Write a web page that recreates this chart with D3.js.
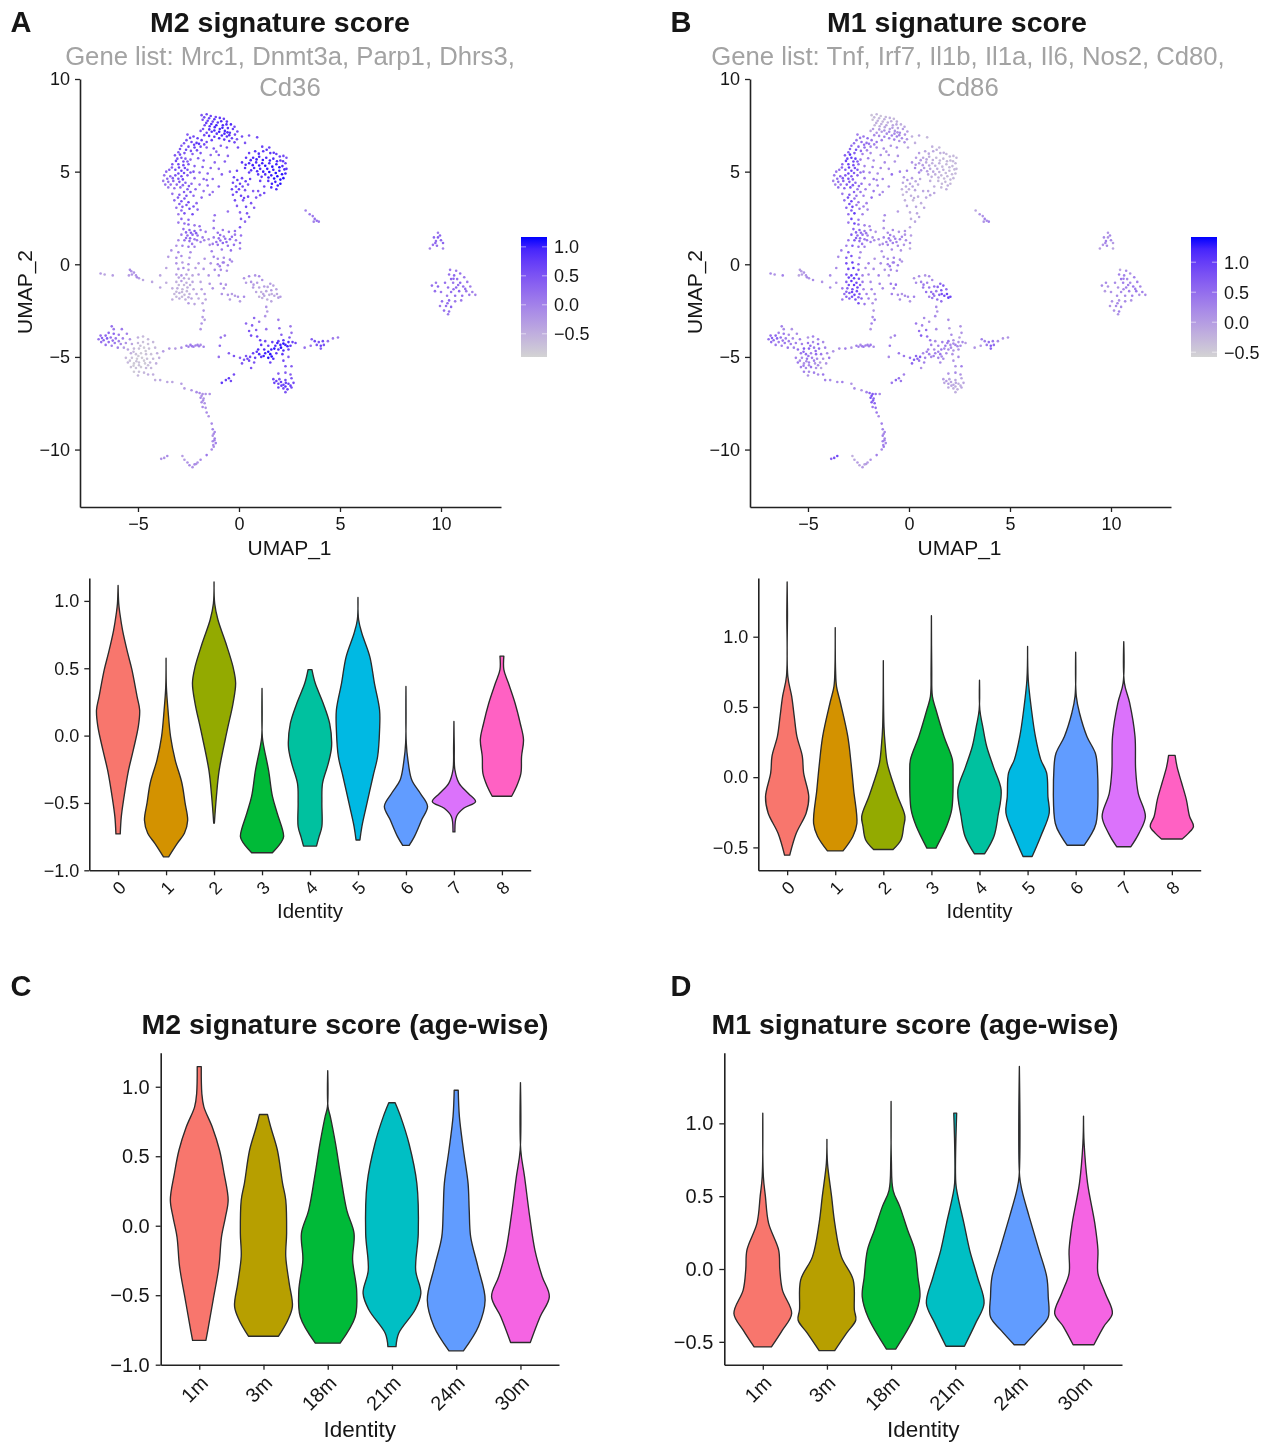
<!DOCTYPE html>
<html>
<head>
<meta charset="utf-8">
<script src="https://cdn.jsdelivr.net/npm/d3@7"></script>
<style>
  html, body { margin: 0; background: #fff; }
  text { font-family: "Liberation Sans", Arial, sans-serif; fill: #161616; }
  .blur { filter: blur(0.45px); }
</style>
</head>
<body>
<svg id="chart" width="1271" height="1443"></svg>
<script>
// umap cells: [UMAP_1, UMAP_2, M2 score, M1 score]
const topCap = [[-1.85,8.05,.5,-.4],[-1.6,8.1,.6,-.3],[-1.4,8,.7,-.4],[-1.15,7.95,.6,-.3],[-.95,7.9,.8,-.2],[-.75,7.85,.7,-.3],[-.6,7.7,.8,-.2],[-.4,7.55,.9,-.2],[-1.8,7.8,.5,-.4],[-1.55,7.75,.7,-.2],[-1.3,7.7,.6,-.3],[-1.05,7.65,.8,-.2],[-.8,7.5,.9,-.1],[-.55,7.35,.8,-.1],[-.3,7.3,.7,0],[-1.7,7.5,.6,-.3],[-1.45,7.45,.8,-.2],[-1.2,7.4,.9,-.1],[-.95,7.3,.9,0],[-.7,7.2,.9,.1],[-.45,7.1,.8,.2],[-.2,7,.6,.1],[-1.9,7.2,.5,-.1],[-1.6,7.1,.7,.1],[-1.35,7.15,.8,0],[-1.1,7.05,.8,.2],[-.85,6.95,.9,.3],[-.6,6.9,.8,.3],[-.35,6.8,.7,.2],[-.1,6.75,.5,.1],[.15,6.9,.6,-.2],[.5,6.95,.5,-.1],[.9,6.85,.6,-.3],[.3,6.55,.5,-.2],[-.05,6.3,.6,-.1]];
const topCapFill = [[-1.72,7.93,.6,-.3],[-1.48,7.88,.7,-.3],[-1.22,7.83,.8,-.2],[-.88,7.72,.9,-.2],[-.62,7.55,.9,-.1],[-.22,7.42,.6,-.1],[-1.62,7.63,.7,-.2],[-1.37,7.57,.9,-.2],[-1.12,7.5,1,-.1],[-.82,7.37,1,0],[-.57,7.12,.9,.1],[-.08,7.17,.6,0],[-1.78,7.3,.5,0],[-1.47,7.28,.8,0],[-1.22,7.22,.9,.1],[-.98,7.15,1,.2],[-.72,7.05,.9,.2],[-.48,6.97,.8,.2],[-1.72,6.97,.6,.2],[-1.48,6.93,.8,.2],[-1.22,6.88,.8,.3],[-.98,6.8,.9,.3],[-.73,6.73,.8,.3],[-.48,6.65,.7,.1],[-.22,6.58,.6,.1]];
const topLeft = [[-2.55,7,.4,.3],[-2.25,6.9,.6,.4],[-2.05,6.8,.7,.5],[-2.6,6.7,.5,.4],[-2.35,6.6,.6,.5],[-2.1,6.55,.8,.5],[-1.85,6.7,.7,.4],[-1.6,6.6,.6,.4],[-1.35,6.7,.7,.3],[-2.85,6.4,.4,.5],[-2.5,6.35,.6,.6],[-2.2,6.3,.7,.5],[-1.9,6.35,.6,.3],[-1.6,6.3,.4,.2],[-1.25,6.25,.5,.2],[-.9,6.4,.4,.1],[-.6,6.3,.5,.2],[-3,6.05,.4,.6],[-2.7,6,.5,.7],[-2.3,5.95,.4,.3],[-1.9,6,.5,.2],[-1.4,5.9,.3,.2],[-1,5.9,.4,.1],[-.55,5.85,.3,.1],[-3.05,5.7,.5,.9],[-2.85,5.75,.5,1],[-2.65,5.7,.4,1],[-2.4,5.65,.3,.4],[-1.75,5.6,.4,.2],[-1.2,5.5,.3,.2],[-.7,5.55,.4,.1],[-3.3,5.4,.5,.6],[-3,5.4,.6,.9],[-2.75,5.35,.6,.8],[-2.5,5.4,.5,.5],[-2.2,5.3,.4,.3],[-1.8,5.25,.4,.3],[-1.4,5.2,.3,.2],[-1,5.15,.3,.2],[-3.45,5.1,.4,.5],[-3.15,5.1,.6,.7],[-2.85,5.05,.7,.9],[-2.55,5.1,.5,.7],[-2.25,5,.5,.4],[-1.95,4.95,.3,.3],[-1.55,4.9,.4,.2],[-.85,4.85,.4,.5],[-.45,5,.3,.3],[-3.7,4.8,.2,.4],[-3.4,4.75,.3,.6],[-3.15,4.8,.5,.7],[-2.85,4.75,.6,.7],[-2.55,4.8,.4,.6],[-2.2,4.65,.3,.4],[-1.75,4.6,.3,.4],[-1.3,4.6,.3,.3],[-3.75,4.5,.1,.3],[-3.5,4.45,.2,.5],[-3.25,4.5,.3,.6],[-2.95,4.45,.5,.7],[-2.65,4.4,.4,.6],[-2.35,4.35,.3,.5],[-1.95,4.3,.2,.3],[-1.55,4.25,.3,.3],[-1,4.2,.4,.2],[-3.5,4.15,.1,.5],[-3.2,4.1,.2,.6],[-2.9,4.15,.3,.8],[-2.55,4.05,.4,.4],[-2.15,4.05,.3,.3],[-1.75,3.95,.2,.4],[-1.3,3.9,.2,.2],[-3.3,3.8,.2,.4],[-2.95,3.75,.4,.7],[-2.6,3.7,.5,.4],[-2.25,3.7,.3,.3],[-1.85,3.6,.3,.5],[-3.2,3.45,.3,.5],[-2.85,3.4,.5,.9],[-2.5,3.35,.6,.4],[-2.1,3.3,.3,.3],[-3.1,3.05,.2,.6],[-2.8,3.1,.4,.9],[-2.45,3,.6,.4],[-2.05,2.95,.3,.2],[-3,2.7,.1,.5],[-2.7,2.75,.5,1],[-2.3,2.7,.6,.3],[-1.2,2.65,.2,.2],[-2.85,2.45,.3,.9],[-2.5,2.4,.3,.4],[-3,2.25,.1,.4],[-2.7,2.2,.2,.9]];
const topLeftFill = [[-2.42,6.82,.6,.4],[-2.72,6.53,.5,.5],[-2.22,6.45,.7,.5],[-1.98,6.5,.8,.4],[-1.72,6.47,.6,.3],[-2.92,6.22,.5,.6],[-2.62,6.18,.6,.8],[-2.38,6.12,.5,.5],[-2.08,6.15,.6,.3],[-1.12,6.08,.3,.1],[-3.17,5.88,.5,.7],[-2.92,5.92,.6,1.1],[-2.75,5.55,.6,.9],[-3.12,5.58,.6,.9],[-2.55,5.55,.4,.7],[-2.02,5.72,.4,.3],[-3.32,5.22,.4,.6],[-2.97,5.22,.7,1],[-2.68,5.2,.6,.8],[-3.6,5,.3,.4],[-3,4.9,.6,.9],[-2.72,4.93,.6,.7],[-2.4,4.95,.5,.5],[-3.55,4.62,.3,.5],[-3.28,4.65,.4,.7],[-3,4.62,.5,.8],[-2.78,4.58,.6,.6],[-3.65,4.3,.2,.3],[-3.38,4.3,.2,.4],[-3.08,4.3,.3,.7],[-2.78,4.27,.3,.7],[-2.48,4.22,.4,.5],[-1.6,4.55,.3,.2],[-1.45,3.75,.3,.3],[-2.72,3.9,.4,.6],[-2.4,3.9,.5,.4],[-3.02,3.6,.4,.8],[-2.7,3.55,.5,.5],[-2.95,3.25,.4,.8],[-2.6,3.2,.5,.4],[-2.25,3.12,.5,.3],[-2.85,2.9,.3,.7]];
const topRight = [[1.15,6.35,.7,-.2],[1.5,6.3,.7,-.3],[1.2,6.1,.8,-.1],[.8,6.1,.8,-.1],[.5,6,.7,0],[1.55,6,.8,-.2],[1.85,5.95,.7,-.3],[2.2,5.85,.6,-.3],[2.35,5.75,.5,-.3],[.35,5.75,.8,0],[.7,5.75,.9,-.1],[1,5.8,.9,-.2],[1.35,5.75,.9,-.3],[1.7,5.7,.9,-.3],[2.05,5.6,.8,-.3],[2.3,5.45,.7,-.3],[.15,5.5,.8,.1],[.5,5.45,.9,0],[.85,5.5,.9,-.1],[1.15,5.45,1,-.2],[1.5,5.45,.9,-.2],[1.85,5.4,1,-.3],[2.15,5.3,.9,-.3],[2.35,5.15,.8,-.3],[.3,5.2,.8,.2],[.75,5.2,.9,0],[1.05,5.15,.9,-.1],[1.4,5.15,1,-.2],[1.7,5.1,1,-.2],[2,5.05,1,-.3],[2.3,4.9,1,-.3],[-.1,5.05,.7,.3],[.5,4.95,.8,.3],[.95,4.85,.8,-.1],[1.3,4.85,.9,-.2],[1.6,4.8,1,-.3],[1.9,4.75,1.1,-.3],[2.2,4.65,1.1,-.3],[-.25,4.7,.7,.1],[.15,4.65,.6,0],[.55,4.6,.7,-.1],[1.05,4.5,.7,-.2],[1.45,4.5,.8,-.3],[1.8,4.45,1,-.3],[2.05,4.35,1.1,-.3],[-.3,4.4,.6,-.1],[.05,4.35,.7,-.1],[.45,4.3,.5,-.2],[1.25,4.2,.6,-.2],[1.6,4.15,.9,-.3],[1.85,4.05,.9,-.2],[-.35,4.05,.7,-.2],[0,4.05,.7,-.2],[.3,4,.5,-.1],[.95,3.95,.5,-.1],[1.25,3.85,.6,-.1],[-.3,3.75,.6,-.3],[.1,3.7,.7,-.2],[.45,3.65,.6,-.2],[.85,3.6,.5,-.1],[-.2,3.45,.6,-.2],[.2,3.45,.5,-.3],[.6,3.3,.5,-.2],[-.1,3.15,.4,-.1],[.35,3.1,.6,-.1],[.75,3.05,.4,-.1],[.05,2.8,.3,-.2],[.4,2.75,.5,-.1],[.1,2.45,.4,-.2],[-.55,2.85,.2,0],[-1.25,2.35,.1,.2],[.3,2.3,.3,-.1],[.05,2,.5,-.1],[-.2,1.8,.2,.1]];
const topRightFill = [[.98,5.97,.9,-.1],[1.37,6.18,.8,-.2],[1.72,6.02,.8,-.2],[2.02,5.82,.7,-.3],[.58,5.62,.9,0],[.87,5.66,1,-.1],[1.18,5.63,1,-.2],[1.53,5.6,1,-.3],[1.88,5.56,.9,-.3],[2.18,5.56,.8,-.3],[.33,5.37,.9,.1],[.68,5.35,1,0],[1,5.33,1,-.1],[1.3,5.32,1.1,-.2],[1.65,5.27,1.1,-.3],[2,5.24,1.1,-.3],[2.25,5.12,.9,-.3],[.6,5.07,.8,.1],[.9,5.02,.9,0],[1.2,5,1,-.1],[1.5,4.98,1.1,-.2],[1.82,4.93,1.1,-.3],[2.13,4.86,1.1,-.3],[1.12,4.72,.8,-.2],[1.46,4.68,1,-.2],[1.74,4.63,1.1,-.3],[2.05,4.57,1.1,-.3],[1.63,4.35,1,-.3],[1.92,4.25,1,-.2],[-.08,4.55,.7,.1],[.33,4.48,.7,-.1],[-.15,4.2,.6,-.1],[.18,4.2,.6,-.1],[.7,3.95,.4,-.1],[1.05,3.73,.5,-.1],[-.12,3.9,.7,-.2],[.25,3.58,.6,-.2],[.5,2.55,.4,-.1]];
const midBand = [[-2.5,2.15,.3,.5],[-2.2,2.1,.1,.3],[-1.95,2.05,.2,.2],[-2.75,1.9,.2,.6],[-2.45,1.85,.3,.6],[-2.2,1.8,.4,.4],[-1.9,1.85,.1,.3],[-1.65,1.75,.1,.1],[-2.85,1.6,.1,.7],[-2.55,1.55,.2,.5],[-2.3,1.6,.3,.5],[-2.05,1.55,.2,.3],[-1.8,1.45,.1,.2],[-1.5,1.35,-.1,.2],[-3,1.3,-.1,.4],[-2.7,1.3,.2,.7],[-2.45,1.25,.2,.5],[-2.2,1.35,.1,.4],[-1.9,1.2,0,.3],[-1.45,1.05,-.1,.1],[-3.1,1,-.2,.3],[-2.8,1,0,.7],[-2.5,.95,.1,.4],[-2.2,.95,0,.3],[-1.35,.7,0,.1],[-3.35,.75,-.2,.3],[-3,.65,-.1,.6],[-2.4,.65,-.1,.2],[-1.25,.4,0,.2],[-1.25,1.95,.1,.1],[-1.05,1.7,.2,.2],[-.8,1.85,.1,.2],[-.5,1.75,.2,.1],[-.2,1.6,.1,.1],[-1.25,1.45,.1,.3],[-1,1.4,.2,.4],[-.75,1.5,.1,.2],[-.45,1.35,.3,.3],[-.15,1.3,.1,.2],[.1,1.55,.2,0],[-1.3,1.1,.1,.2],[-1.05,1.05,.2,.3],[-.8,1.15,.3,.3],[-.55,1,.2,.2],[-.25,1.05,.2,.1],[.05,1.15,.1,.1],[-.85,.8,.1,.2],[-.4,.75,.2,.1],[.05,.85,.1,-.1]];
const midBandFill = [[-2.62,1.72,.3,.6],[-2.38,1.7,.4,.5],[-2.12,1.68,.4,.4],[-2.42,1.4,.3,.5],[-2.62,1.42,.2,.6],[-2.08,1.3,.1,.4],[-1.72,1.3,0,.2],[-2.32,1.1,.1,.4],[-.93,1.58,.2,.3],[-1.12,1.2,.2,.3],[-.92,1.28,.3,.4],[-.62,1.2,.3,.3],[-.35,1.48,.2,.2],[-.68,1.38,.2,.3]];
const midCore = [[-3.5,.4,-.3,.2],[-3.1,.35,-.1,.7],[-2.85,.45,-.1,.8],[-2.45,.35,-.2,.3],[-1.7,.3,-.2,.1],[-1.05,.3,-.1,.2],[-.75,.35,-.1,.3],[-.45,.25,0,.2],[-3.1,.05,-.2,.8],[-2.8,.1,-.3,1],[-2.5,0,-.2,.5],[-2,.05,-.3,.3],[-1.4,.05,-.2,.2],[-1.05,0,0,.3],[-.8,.1,0,.2],[-.55,-.05,-.1,.3],[-.35,.15,-.1,.1],[-3.6,-.2,-.4,.2],[-3,-.25,-.2,.9],[-2.75,-.2,-.1,1.1],[-2.5,-.3,-.3,.6],[-2.15,-.2,-.3,.2],[-1.75,-.25,-.2,.2],[-1.2,-.3,-.1,.1],[-.9,-.3,-.1,.2],[-.6,-.35,-.2,.2],[-3.9,-.6,-.4,.2],[-3.1,-.55,-.3,.7],[-2.85,-.6,-.2,1],[-2.6,-.55,-.4,1],[-2.3,-.6,-.4,.3],[-2,-.55,-.3,.2],[-1.5,-.6,-.2,.3],[-1,-.6,-.1,.1],[-4.3,-.95,-.4,.1],[-3.6,-1,-.5,.1],[-3.1,-.95,-.5,.7],[-2.85,-.9,-.3,1],[-2.6,-1,-.5,.9],[-2.3,-.95,-.4,.4],[-1.9,-.95,-.4,.2],[-1.45,-1.05,-.2,.3],[-.9,-1.05,-.1,.4],[-.65,-1.1,-.2,.5],[-3.9,-1.25,-.4,.2],[-3.3,-1.3,-.5,.4],[-3.05,-1.3,-.5,.6],[-2.8,-1.35,-.6,.8],[-2.55,-1.25,-.5,.9],[-2.25,-1.35,-.4,.3],[-1.85,-1.35,-.3,.3],[-1.3,-1.3,-.2,.2],[-3.2,-1.6,-.6,.5],[-2.95,-1.55,-.5,.7],[-2.7,-1.65,-.6,.9],[-2.45,-1.6,-.5,.7],[-2.1,-1.6,-.4,.3],[-1.7,-1.6,-.3,.2],[-.85,-1.6,-.2,.3],[-.55,-1.65,-.2,.2],[-.35,-1.6,-.3,.1],[-.05,-1.75,-.2,.2],[.25,-1.75,-.1,.3],[-3.3,-1.9,-.5,.4],[-2.95,-1.85,-.5,.6],[-2.65,-1.9,-.5,.8],[-2.35,-1.85,-.4,.6],[-2,-1.85,-.5,.3],[-1.65,-1.9,-.4,.2],[-.45,-1.9,-.3,.2],[-2.5,-2.1,-.3,.8],[-2.2,-2.15,-.4,.4],[-1.8,-2.1,-.4,.1],[.05,-2,-.3,.1],[-1.75,-2.5,-.2,.1],[-1.8,-2.85,-.3,.2],[-1.85,-3.2,-.2,.3],[-1.9,-3.5,-.2,.1],[-1.7,-3,-.3,.4]];
const midCoreFill = [[-2.98,-.72,-.4,.9],[-2.72,-.75,-.4,1],[-2.48,-.78,-.5,.8],[-2.98,-1.12,-.6,.8],[-2.72,-1.12,-.6,1],[-2.42,-1.12,-.5,.6],[-3.1,-1.48,-.6,.6],[-2.82,-1.5,-.6,.9],[-2.58,-1.45,-.6,.8],[-3.1,-1.75,-.6,.6],[-2.82,-1.75,-.6,.8],[-2.5,-1.78,-.5,.6],[-.2,-1.7,-.3,.2],[-.75,-1.3,-.2,.3],[-.75,.1,-.1,.3],[-.95,-.1,0,.4]];
const midRight = [[.25,-.75,-.2,.1],[.5,-.65,-.1,.2],[.8,-.6,-.2,.1],[1,-.65,-.1,.2],[.35,-1,-.3,.2],[.6,-.95,-.2,.3],[.9,-1,-.3,.3],[1.15,-.85,-.2,.2],[.7,-1.25,-.3,.4],[1,-1.25,-.4,.4],[1.25,-1.2,-.3,.5],[1.55,-1.05,-.3,.6],[1.7,-1.15,-.4,.7],[.85,-1.5,-.4,.5],[1.1,-1.5,-.5,.5],[1.35,-1.45,-.4,.4],[1.6,-1.4,-.3,.7],[1.85,-1.35,-.4,.5],[1,-1.75,-.5,.3],[1.25,-1.7,-.4,.4],[1.5,-1.65,-.5,.6],[1.75,-1.7,-.4,.9],[1.95,-1.8,-.3,1],[2.05,-1.75,-.3,.9],[1.4,-1.9,-.5,.5],[1.6,-2,-.4,.5],[1.35,-2.3,-.2,.2],[1.4,-2.55,-.3,.1],[1.3,-2.8,-.2,.2],[.72,-1.1,-.3,.4],[1.42,-1.22,-.4,.6],[1.2,-1.6,-.4,.5],[1.62,-1.6,-.5,.8],[1.88,-1.6,-.4,.9],[1.15,-1.82,-.5,.4]];
const lowerRight = [[.75,-2.9,.3,.2],[1.95,-3,.1,.2],[.35,-3.2,.3,.4],[.65,-3.3,.4,.3],[1,-3.1,.1,.1],[2.55,-3.35,.1,.1],[2,-3.45,.3,0],[2.6,-3.7,.2,.1],[.5,-3.6,.5,.5],[.85,-3.55,.4,.5],[1.35,-3.5,.2,.2],[2.1,-3.8,.4,.2],[.6,-3.85,.6,.7],[.9,-3.9,.6,.5],[2.5,-3.95,.5,0],[1.05,-4.1,.7,.4],[1.3,-4.15,.6,.2],[1.65,-4.2,.7,.3],[1.95,-4.15,.7,.4],[2.2,-4.1,.8,.1],[2.45,-4.2,.9,.1],[2.65,-4.2,.7,.2],[2.8,-4.25,.6,0],[1.1,-4.35,.8,.3],[1.45,-4.4,.7,.3],[1.8,-4.4,.9,.4],[2.05,-4.35,1,.2],[2.3,-4.35,1,.3],[2.55,-4.4,.8,.2],[3.25,-4.5,.2,.1],[3.55,-4.4,.2,.1],[.95,-4.6,.9,.3],[1.25,-4.6,.9,.2],[1.6,-4.6,1,.4],[1.95,-4.6,.9,.2],[2.2,-4.65,.9,.1],[2.45,-4.6,.7,.1],[.7,-4.8,.7,.2],[1,-4.85,.9,.3],[1.3,-4.8,1,.3],[1.55,-4.85,1.1,.4],[1.85,-4.8,.8,.2],[2.15,-4.85,.8,.1],[.35,-4.95,.5,.6],[.55,-5,.6,.7],[.8,-5.05,.7,.3],[1.1,-5,.8,.2],[1.45,-5.05,1.1,.3],[1.7,-5.1,.9,.2],[.05,-5.05,.4,.5],[.25,-5.15,.5,.7],[.5,-5.2,.6,.4],[.75,-5.3,.5,.3],[1.55,-5.3,.7,.2],[-.25,-4.95,.5,.4],[-.5,-4.8,.4,.4],[.15,-5.35,.5,.6],[2.2,-5.2,.6,.1],[2.45,-5,.4,.2],[2.3,-5.5,.5,.1],[2.6,-5.5,.4,.3],[.6,-5.6,.5,.1],[-.7,-3.85,.1,.3],[-.95,-4.4,.3,.4],[-1,-5,.2,.2],[-.9,-3.95,.2,.1],[1.45,-4.72,1.1,.3],[1.75,-4.55,1.1,.2],[2.08,-4.5,1.1,.2],[1.9,-4.25,1,.3],[2.2,-4.28,1.1,.2],[2.4,-4.42,1,.2],[1.22,-4.95,1,.3],[1.62,-4.98,1.1,.2],[.88,-4.72,.8,.3],[.42,-5.1,.6,.6]];
const bottomRight = [[-.85,-6.4,.8,.4],[-.65,-6.25,.7,.6],[-.5,-6.15,.8,.5],[-.4,-6.3,.6,.4],[-.25,-5.95,.6,.3],[1.95,-5.9,.4,.1],[2.3,-5.85,.4,.2],[2.55,-5.95,.4,.1],[1.7,-6.2,.6,0],[2,-6.2,.5,-.1],[2.3,-6.25,.6,-.1],[2.6,-6.15,.5,-.1],[1.75,-6.4,.7,-.1],[1.95,-6.45,.6,0],[2.2,-6.5,.7,-.1],[2.45,-6.45,.7,-.2],[2.7,-6.4,.6,-.1],[1.95,-6.65,.7,-.1],[2.2,-6.7,.6,-.2],[2.4,-6.75,.7,-.2],[2.6,-6.65,.6,-.1],[2.3,-6.9,.5,-.2],[1.85,-6.3,.7,0],[2.08,-6.35,.7,-.1],[2.32,-6.4,.7,-.1],[2.55,-6.55,.7,-.2],[2.1,-6.55,.7,-.1],[2.3,-6.6,.8,-.2]];
const rightWing = [[3.6,-4.05,.4,.3],[3.75,-4.15,.6,.3],[3.95,-4.2,.5,.5],[4.15,-4.15,.6,.4],[3.85,-4.35,.5,.4],[4.05,-4.4,.7,.7],[4.2,-4.35,.5,.5],[4.05,-4.55,.4,.6],[4.4,-4.15,.2,.2],[4.65,-4,.1,.1],[4.9,-3.95,.1,.1],[3.3,2.9,0,-.1],[3.5,2.7,.1,.1],[3.65,2.6,.1,.1],[3.75,2.45,.2,.3],[3.85,2.35,.2,.2],[3.95,2.3,.1,.3],[3.7,2.3,0,.1]];
const leftStray = [[-6.85,-.5,-.3,.2],[-6.65,-.55,-.4,.1],[-6.25,-.6,-.3,.3],[-5.4,-.3,-.1,0],[-5.45,-.6,-.3,-.1],[-5.3,-.55,-.2,0],[-5.2,-.45,-.2,.1],[-5.05,-.7,-.1,.2],[-4.95,-.75,-.3,.1],[-4.75,-.85,-.4,.2],[-5.33,-.38,-.2,0],[-5.1,-.6,-.2,.1]];
const leftHead = [[-6.3,-3.35,.2,.3],[-6.2,-3.5,.1,.2],[-5.8,-3.5,.1,.1],[-6.45,-3.7,.3,.3],[-6.2,-3.75,.3,.4],[-5.95,-3.8,.1,.2],[-5.55,-3.75,0,.2],[-6.85,-3.85,.2,.5],[-6.6,-3.85,.3,.6],[-6.35,-3.95,.2,.5],[-6.1,-4,.1,.3],[-5.75,-4,0,.2],[-5.4,-4.05,-.2,.3],[-6.95,-4.05,.2,.5],[-6.7,-4.1,.3,.5],[-6.45,-4.2,.2,.3],[-6.15,-4.25,.1,.4],[-5.85,-4.3,-.1,.3],[-6.6,-4.35,.2,.4],[-6.3,-4.4,0,.3],[-6,-4.5,0,.4],[-5.7,-4.5,-.3,.3],[-6.78,-3.98,.3,.6],[-6.53,-4,.4,.6],[-6.82,-4.2,.2,.5],[-6.25,-4.12,.2,.4],[-5.95,-4.15,0,.3],[-5.6,-4.25,-.2,.3]];
const leftBody = [[-5,-3.95,-.5,.1],[-4.75,-3.9,-.6,.3],[-4.5,-4.05,-.6,.3],[-5.3,-4.3,-.4,.3],[-5,-4.25,-.6,.4],[-4.75,-4.2,-.7,.2],[-4.5,-4.3,-.7,.4],[-4.25,-4.2,-.6,.2],[-5.5,-4.6,-.4,.5],[-5.2,-4.55,-.6,.7],[-4.95,-4.55,-.7,.6],[-4.7,-4.5,-.8,.4],[-4.45,-4.55,-.7,.5],[-4.15,-4.5,-.6,.3],[-5.35,-4.8,-.5,.4],[-5.1,-4.85,-.7,.5],[-4.85,-4.8,-.8,.3],[-4.6,-4.85,-.7,.5],[-4.35,-4.85,-.7,.4],[-4.05,-4.8,-.5,.2],[-5.6,-5.05,-.6,.3],[-5.3,-5.05,-.7,.2],[-5.05,-5.1,-.8,.4],[-4.8,-5.05,-.8,.3],[-4.55,-5.1,-.7,.2],[-4.25,-5.1,-.6,.1],[-3.95,-5.05,-.5,.4],[-5.5,-5.3,-.6,.4],[-5.2,-5.35,-.8,.1],[-4.95,-5.3,-.7,.3],[-4.65,-5.35,-.8,.1],[-4.4,-5.3,-.6,0],[-4.1,-5.35,-.5,.1],[-5.35,-5.55,-.7,.3],[-5.1,-5.6,-.7,.2],[-4.85,-5.55,-.8,.4],[-4.6,-5.6,-.6,.1],[-4.35,-5.6,-.6,-.1],[-5.2,-5.8,-.8,.3],[-4.95,-5.8,-.7,.2],[-4.7,-5.85,-.6,.3],[-5,-6,-.6,.1],[-4.5,-5.95,-.5,.2],[-4.25,-5.95,-.5,.4],[-4.15,-6.25,-.5,.3],[-3.9,-6.25,-.4,.2],[-3.55,-6.35,-.4,.2],[-3.3,-6.35,-.4,.3],[-4.88,-4.4,-.7,.5],[-4.62,-4.68,-.8,.5],[-5.22,-4.72,-.6,.6],[-4.98,-4.95,-.8,.4],[-4.7,-5.2,-.8,.3],[-5.08,-5.23,-.7,.2],[-5.4,-5.2,-.7,.2],[-4.5,-5.45,-.7,.2],[-4.95,-5.45,-.7,.2],[-5.22,-5.47,-.8,.3]];
const strandH = [[-3.75,-4.7,-.3,.1],[-3.45,-4.55,-.2,.2],[-3.15,-4.55,-.3,.3],[-2.85,-4.5,-.1,.1],[-2.6,-4.4,0,.3],[-2.4,-4.35,.1,.2],[-2.25,-4.45,0,.4],[-2.05,-4.35,0,.3],[-1.9,-4.35,-.1,.4],[-1.75,-4.45,0,.2],[-2.5,-4.45,0,.3],[-2.32,-4.42,.1,.3],[-2.15,-4.38,0,.3],[-1.98,-4.42,0,.3]];
const stalk = [[-2.85,-6.45,-.3,.1],[-2.7,-6.7,-.3,.2],[-2.35,-6.8,-.2,.1],[-2.1,-6.9,-.1,.3],[-1.95,-6.95,-.1,.6],[-1.8,-7,-.2,.7],[-1.65,-7,-.2,.5],[-1.45,-7,-.2,.2],[-1.9,-7.2,-.1,.8],[-1.75,-7.25,-.2,.6],[-1.85,-7.45,-.1,.7],[-1.7,-7.5,-.2,.6],[-1.8,-7.7,-.1,.4],[-1.65,-7.75,-.2,.5],[-1.6,-8,-.1,.4],[-1.5,-8.2,-.2,.2],[-1.35,-8.6,-.1,.3],[-1.3,-8.9,0,.3],[-1.2,-9.05,-.1,.2],[-1.3,-9.25,-.2,.3],[-1.2,-9.4,0,.2],[-1.3,-9.55,-.1,.3],[-1.15,-9.65,0,.2],[-1.25,-9.85,-.1,.4],[-1.35,-10,-.1,.2],[-1.6,-10.3,.1,.3],[-1.9,-10.55,-.1,.1],[-2.05,-10.7,-.2,0],[-2.2,-10.8,-.1,-.1],[-2.3,-10.95,-.2,0],[-2.45,-10.85,-.1,-.1],[-2.55,-10.7,-.2,0],[-2.7,-10.55,-.3,-.1],[-2.8,-10.35,-.3,-.2],[-3.55,-10.35,-.1,.9],[-3.7,-10.45,-.2,.8],[-3.85,-10.5,-.2,.6],[-1.85,-7.1,-.2,.8],[-1.78,-7.35,-.1,.7],[-1.25,-9.15,-.1,.2],[-1.22,-9.5,0,.3],[-1.27,-9.75,-.1,.3],[-2.12,-10.78,-.2,0]];
const farRight = [[9.85,1.7,.1,.1],[9.65,1.45,.3,.2],[9.85,1.45,.4,.1],[10,1.3,.3,.2],[9.75,1.25,.2,.3],[10.1,1.15,.3,0],[9.6,1.05,.2,.1],[9.8,1,.2,.2],[9.45,.85,0,0],[10.1,.85,0,-.1],[10.45,-.3,.1,-.1],[10.75,-.35,.1,.2],[10.4,-.55,.2,.3],[10.65,-.6,.3,.3],[10.95,-.5,.2,.1],[10.5,-.8,.3,.4],[10.8,-.8,.2,.2],[11.15,-.7,.1,.3],[9.75,-1,.1,.2],[10.2,-1,.2,.2],[10.6,-1,.1,.3],[10.95,-1,.3,.2],[11.3,-.95,.1,.3],[9.55,-1.15,.2,.2],[9.85,-1.2,.3,.1],[10.35,-1.25,.2,.1],[10.75,-1.25,.3,.3],[11.1,-1.2,.2,.4],[11.45,-1.2,0,.2],[9.7,-1.45,.2,0],[10,-1.5,.1,.1],[10.5,-1.5,.2,.2],[10.9,-1.45,.3,.3],[11.25,-1.45,.1,.4],[11.55,-1.5,0,.3],[10.3,-1.7,.1,.2],[10.7,-1.7,.2,.2],[11.05,-1.7,.2,.3],[11.4,-1.65,.1,.1],[11.7,-1.65,0,.2],[10.05,-2,.2,.1],[10.4,-1.95,.3,.1],[10.7,-2,.1,.2],[11,-1.95,.1,.1],[9.95,-2.25,.1,.1],[10.25,-2.25,.2,.2],[10.5,-2.3,.3,.2],[10.15,-2.5,.2,.1],[10.4,-2.55,.2,.3],[10.35,-2.7,.1,.1],[9.95,1.55,.3,.2],[9.72,1.15,.3,.2],[10.62,-.78,.3,.3],[10.85,-1.12,.2,.3],[11.2,-1.33,.2,.3],[10.62,-1.35,.2,.2],[10.32,-2.1,.2,.2]];
const umapCells = [...topCap, ...topCapFill, ...topLeft, ...topLeftFill, ...topRight, ...topRightFill, ...midBand, ...midBandFill, ...midCore, ...midCoreFill, ...midRight, ...lowerRight, ...bottomRight, ...rightWing, ...leftStray, ...leftHead, ...leftBody, ...strandH, ...stalk, ...farRight];

// colour bars
const m2Domain = [-0.9, 1.17];
const m1Domain = [-0.58, 1.42];
const colorbarTicks = [-0.5, 0, 0.5, 1];

// violins: per identity, [score, density] from top to bottom
const clusterIds = ['0','1','2','3','4','5','6','7','8'];
const ageIds = ['1m','3m','18m','21m','24m','30m'];
const clusterColors = ['#F8766D','#D39200','#93AA00','#00BA38','#00C19F','#00B9E3','#619CFF','#DB72FB','#FF61C3'];
const ageColors = ['#F8766D','#B79F00','#00BA38','#00BFC4','#619CFF','#F564E3'];

const m2Cluster = [
  [[1.115,0],[.98,.03],[.91,.08],[.78,.21],[.61,.45],[.49,.64],[.29,.88],[.19,1],[.07,.94],[-.11,.7],[-.26,.48],[-.46,.27],[-.6,.15],[-.73,.1]],
  [[.574,0],[.36,.015],[.19,.09],[-.01,.21],[-.18,.42],[-.35,.73],[-.5,.88],[-.63,1],[-.725,.85],[-.8,.52],[-.9,.12]],
  [[1.14,0],[.98,.03],[.86,.18],[.685,.55],[.51,.88],[.39,1],[.24,.88],[.04,.61],[-.255,.24],[-.45,.11],[-.65,.015]],
  [[.35,0],[-.01,.015],[-.08,.08],[-.255,.3],[-.45,.48],[-.575,.7],[-.75,1],[-.8,.85],[-.87,.48]],
  [[.49,.09],[.39,.24],[.24,.61],[.09,.91],[-.08,1],[-.205,.85],[-.355,.58],[-.5,.55],[-.675,.55],[-.75,.42],[-.82,.3]],
  [[1.025,0],[.86,.03],[.76,.18],[.585,.55],[.39,.76],[.19,1],[.04,1],[-.155,.91],[-.3,.7],[-.5,.42],[-.675,.18],[-.775,.09]],
  [[.365,0],[-.055,.015],[-.18,.09],[-.33,.27],[-.43,.67],[-.525,1],[-.625,.73],[-.75,.39],[-.815,.15]],
  [[.105,0],[-.08,.015],[-.255,.045],[-.355,.24],[-.43,.67],[-.49,1],[-.54,.45],[-.6,.12],[-.715,.045]],
  [[.59,.09],[.49,.09],[.39,.3],[.24,.61],[.09,.85],[-.03,1],[-.155,.91],[-.28,.88],[-.38,.67],[-.45,.45]]
];
const m1Cluster = [
  [[1.39,0],[1.17,.015],[.72,.03],[.575,.21],[.43,.33],[.29,.45],[.15,.7],[.03,.76],[-.14,1],[-.255,.88],[-.4,.42],[-.555,.12]],
  [[1.065,0],[.765,.015],[.645,.06],[.53,.24],[.29,.58],[.1,.73],[-.09,.85],[-.33,1],[-.42,.82],[-.525,.36]],
  [[.83,0],[.36,.03],[.24,.08],[.1,.18],[-.04,.45],[-.14,.67],[-.28,1],[-.35,.94],[-.445,.82],[-.515,.45]],
  [[1.15,0],[.765,.015],[.575,.045],[.48,.21],[.29,.58],[.125,.97],[.03,1],[-.23,.94],[-.35,.7],[-.505,.21]],
  [[.69,0],[.48,.015],[.36,.15],[.22,.33],[.075,.64],[-.09,1],[-.28,.85],[-.42,.67],[-.545,.24]],
  [[.93,0],[.695,.03],[.48,.18],[.29,.36],[.125,.61],[.03,.88],[-.14,.94],[-.255,1],[-.42,.61],[-.565,.21]],
  [[.89,0],[.575,.03],[.455,.18],[.29,.52],[.17,.91],[.075,1],[-.33,.94],[-.42,.67],[-.485,.39]],
  [[.965,0],[.67,.03],[.53,.27],[.29,.52],[.05,.55],[-.115,.67],[-.28,1],[-.4,.7],[-.495,.33]],
  [[.155,.15],[.075,.24],[-.04,.45],[-.16,.67],[-.28,.82],[-.35,1],[-.4,.76],[-.44,.48]]
];
const m2Age = [
  [[1.145,.07],[.95,.09],[.855,.16],[.71,.45],[.545,.7],[.375,.86],[.185,1],[.065,.91],[-.08,.77],[-.295,.68],[-.535,.48],[-.725,.32],[-.825,.23]],
  [[.8,.14],[.71,.25],[.545,.48],[.305,.66],[.185,.77],[-.055,.8],[-.22,.77],[-.415,.89],[-.58,1],[-.68,.84],[-.795,.52]],
  [[1.115,0],[.855,.01],[.785,.09],[.59,.27],[.355,.45],[.11,.66],[-.055,.91],[-.245,.86],[-.465,1],[-.655,.95],[-.845,.43]],
  [[.885,.11],[.785,.3],[.59,.59],[.305,.86],[-.055,.91],[-.32,.82],[-.485,1],[-.605,.8],[-.775,.23],[-.87,.14]],
  [[.975,.07],[.785,.11],[.545,.25],[.305,.41],[.11,.45],[-.08,.5],[-.295,.75],[-.535,1],[-.725,.77],[-.9,.25]],
  [[1.03,0],[.545,.01],[.355,.14],[.065,.32],[-.175,.5],[-.365,.75],[-.51,1],[-.655,.68],[-.84,.34]]
];
const m1Age = [
  [[1.07,0],[.635,.02],[.5,.09],[.315,.2],[.13,.55],[-.005,.59],[-.145,.68],[-.305,1],[-.42,.68],[-.535,.3]],
  [[.89,0],[.725,.02],[.5,.16],[.315,.27],[.085,.5],[-.075,.91],[-.28,.95],[-.35,1],[-.44,.68],[-.56,.27]],
  [[1.15,0],[.75,.01],[.54,.07],[.43,.3],[.27,.57],[.13,.82],[-.055,.93],[-.19,1],[-.33,.8],[-.55,.16]],
  [[1.07,.05],[.59,.02],[.5,.09],[.315,.3],[.13,.5],[-.055,.77],[-.235,1],[-.375,.7],[-.53,.32]],
  [[1.39,0],[.635,.01],[.54,.09],[.36,.34],[.13,.68],[-.055,.95],[-.19,1],[-.33,1],[-.42,.64],[-.52,.18]],
  [[1.05,0],[.865,.02],[.59,.14],[.315,.39],[.13,.5],[-.03,.5],[-.165,.75],[-.305,1],[-.395,.7],[-.52,.36]]
];

const svg = d3.select('#chart');
const page = svg.append('g').attr('class', 'blur');

function panelLetter(label, x, y) {
    page.append('text').attr('x', x).attr('y', y)
        .attr('font-size', 29).attr('font-weight', 'bold').attr('text-anchor', 'middle').text(label);
}

function title(label, x, y) {
    page.append('text').attr('x', x).attr('y', y)
        .attr('font-size', 28.5).attr('font-weight', 'bold').attr('text-anchor', 'middle').text(label);
}

function styleAxis(g, size) {
    g.selectAll('path.domain').attr('stroke', '#222').attr('stroke-width', 1.6);
    g.selectAll('.tick line').attr('stroke', '#222').attr('stroke-width', 1.3);
    g.selectAll('.tick text').attr('font-size', size).attr('fill', '#161616').attr('font-family', '"Liberation Sans", Arial, sans-serif');
}

// feature plot
function drawUmap(opts) {
    const x = d3.scaleLinear().domain([-7.87, 12.97]).range([opts.left, opts.left + 421]);
    const y = d3.scaleLinear().domain([-13.1, 10]).range([507, 79]);
    const color = d3.scaleLinear().domain(opts.domain).range(['#D3D3D3', '#0000FF']).interpolate(d3.interpolateLab).clamp(true);

    title(opts.title, opts.titleX, 32);
    opts.genes.forEach((line, i) => {
        page.append('text').attr('x', opts.geneX).attr('y', 65 + i * 31)
            .attr('font-size', 25.7).attr('text-anchor', 'middle').style('fill', '#a3a3a3').text(line);
    });

    const cells = umapCells.slice().sort((a, b) => a[opts.score] - b[opts.score]);
    page.append('g').selectAll('circle')
        .data(cells)
        .join('circle')
        .attr('cx', d => x(d[0]))
        .attr('cy', d => y(d[1]))
        .attr('r', 1.3)
        .attr('fill', d => color(d[opts.score]));

    const xAxis = page.append('g').attr('transform', 'translate(0,507)')
        .call(d3.axisBottom(x).tickValues([-5, 0, 5, 10]).tickSizeInner(5).tickSizeOuter(0).tickPadding(5));
    const yAxis = page.append('g').attr('transform', `translate(${opts.left},0)`)
        .call(d3.axisLeft(y).tickValues([-10, -5, 0, 5, 10]).tickSizeInner(5).tickSizeOuter(0).tickPadding(5));
    styleAxis(xAxis, 18);
    styleAxis(yAxis, 18);

    page.append('text').attr('x', x(2.5)).attr('y', 555)
        .attr('font-size', 21).attr('text-anchor', 'middle').text('UMAP_1');
    page.append('text').attr('transform', `translate(${opts.left - 48},292) rotate(-90)`)
        .attr('font-size', 21).attr('text-anchor', 'middle').text('UMAP_2');

    // colour bar
    const legendY = d3.scaleLinear().domain(opts.domain).range([357, 237]);
    const gradId = 'grad' + opts.score;
    const grad = svg.append('defs').append('linearGradient').attr('id', gradId)
        .attr('x1', 0).attr('x2', 0).attr('y1', 1).attr('y2', 0);
    d3.range(0, 1.001, 0.1).forEach(t => {
        grad.append('stop').attr('offset', t)
            .attr('stop-color', color(opts.domain[0] + t * (opts.domain[1] - opts.domain[0])));
    });
    page.append('rect').attr('x', opts.barX).attr('y', 237).attr('width', 26).attr('height', 120)
        .attr('fill', `url(#${gradId})`);
    colorbarTicks.forEach(t => {
        page.append('line').attr('x1', opts.barX).attr('x2', opts.barX + 5)
            .attr('y1', legendY(t)).attr('y2', legendY(t)).attr('stroke', '#fff').attr('stroke-opacity', .55);
        page.append('line').attr('x1', opts.barX + 21).attr('x2', opts.barX + 26)
            .attr('y1', legendY(t)).attr('y2', legendY(t)).attr('stroke', '#fff').attr('stroke-opacity', .55);
        page.append('text').attr('x', opts.barX + 33).attr('y', legendY(t) + 6.5)
            .attr('font-size', 18).text(d3.format('.1f')(t));
    });
}

function drawViolin(opts) {
    const x = d3.scalePoint().domain(opts.ids).range([opts.left, opts.right]).padding(0.6);
    const y = d3.scaleLinear().domain(opts.domain).range([opts.bottom, opts.top]);
    const halfWidth = x.step() * 0.45;

    const area = d3.area()
        .x0(d => -d[1] * halfWidth)
        .x1(d => d[1] * halfWidth)
        .y(d => y(d[0]))
        .curve(d3.curveCatmullRom.alpha(0.5));

    page.append('g').selectAll('path')
        .data(opts.series)
        .join('path')
        .attr('transform', (d, i) => `translate(${x(opts.ids[i])},0)`)
        .attr('d', area)
        .attr('fill', (d, i) => opts.colors[i])
        .attr('stroke', '#2b2b2b')
        .attr('stroke-width', 1.35)
        .attr('stroke-linejoin', 'round');

    const yAxis = page.append('g').attr('transform', `translate(${opts.left},0)`)
        .call(d3.axisLeft(y).tickValues(opts.ticks).tickFormat(d3.format('.1f')).tickSizeInner(5).tickSizeOuter(0).tickPadding(opts.tickPad));
    const xAxis = page.append('g').attr('transform', `translate(0,${opts.bottom})`)
        .call(d3.axisBottom(x).tickSizeInner(5).tickSizeOuter(0));
    styleAxis(yAxis, opts.tickSize);
    styleAxis(xAxis, opts.tickSize);
    xAxis.selectAll('.tick text')
        .attr('text-anchor', 'end')
        .attr('transform', 'translate(-4,6) rotate(-45)')
        .attr('dy', '0.7em')
        .attr('y', 5);

    page.append('text').attr('x', (opts.left + opts.right) / 2).attr('y', opts.labelY)
        .attr('font-size', opts.labelSize).attr('text-anchor', 'middle').text('Identity');
}

panelLetter('A', 21, 32);
panelLetter('B', 681, 32);
panelLetter('C', 21, 996);
panelLetter('D', 681, 996);

drawUmap({ left: 80, title: 'M2 signature score', titleX: 280, geneX: 290,
    genes: ['Gene list: Mrc1, Dnmt3a, Parp1, Dhrs3,', 'Cd36'], score: 2, domain: m2Domain, barX: 521 });
drawUmap({ left: 750, title: 'M1 signature score', titleX: 957, geneX: 968,
    genes: ['Gene list: Tnf, Irf7, Il1b, Il1a, Il6, Nos2, Cd80,', 'Cd86'], score: 3, domain: m1Domain, barX: 1191 });

drawViolin({ ids: clusterIds, series: m2Cluster, colors: clusterColors, left: 89.3, right: 530.7, top: 578, bottom: 870.3,
    domain: [-1, 1.17], ticks: [-1, -.5, 0, .5, 1], labelY: 918, labelSize: 20.5, tickSize: 18, tickPad: 5 });
drawViolin({ ids: clusterIds, series: m1Cluster, colors: clusterColors, left: 758.3, right: 1200.7, top: 578, bottom: 870.3,
    domain: [-.663, 1.418], ticks: [-.5, 0, .5, 1], labelY: 918, labelSize: 20.5, tickSize: 18, tickPad: 5 });

title('M2 signature score (age-wise)', 345, 1034);
title('M1 signature score (age-wise)', 915, 1034);

drawViolin({ ids: ageIds, series: m2Age, colors: ageColors, left: 160.7, right: 559, top: 1052.7, bottom: 1364.7,
    domain: [-1, 1.245], ticks: [-1, -.5, 0, .5, 1], labelY: 1437, labelSize: 22.5, tickSize: 20, tickPad: 6 });
drawViolin({ ids: ageIds, series: m1Age, colors: ageColors, left: 724.3, right: 1122, top: 1052.7, bottom: 1364.7,
    domain: [-.657, 1.485], ticks: [-.5, 0, .5, 1], labelY: 1437, labelSize: 22.5, tickSize: 20, tickPad: 6 });
</script>
</body>
</html>
